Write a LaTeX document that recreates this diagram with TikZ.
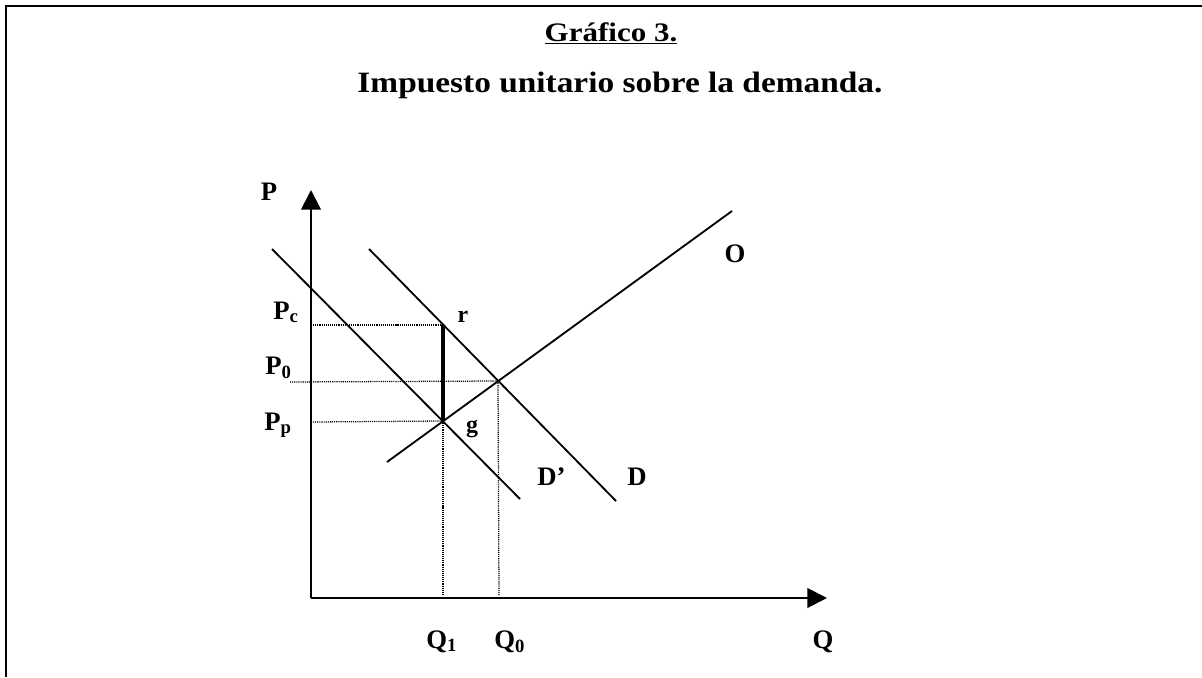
\documentclass[tikz,border=0pt]{standalone}
\usepackage{fontspec}
\usepackage{graphicx}
\setmainfont{Liberation Serif}
\usetikzlibrary{arrows.meta}

\tikzset{
  curve/.style={line width=1.3pt},
  axis/.style={line width=1.4pt,-{Triangle[width=14pt,length=14pt]}},
  guide/.style={line width=0.9pt,dash pattern=on 0.8pt off 0.7pt},
  lbl/.style={font=\bfseries\fontsize{17}{19}\selectfont},
  biglbl/.style={font=\bfseries\fontsize{19}{21}\selectfont},
}

\begin{document}
\begin{tikzpicture}[x=0.025cm,y=-0.025cm,inner sep=0pt]
\useasboundingbox (0,0) rectangle (1202,677);
\draw[line width=1.4pt] (6,677)--(6,6)--(1202,6);
% titles
\node[anchor=base,font=\bfseries\fontsize{19}{21}\selectfont] (tit) at (611,41) {\scalebox{1.16}[1]{\underline{Gráfico 3.}}};
\node[anchor=base,font=\bfseries\fontsize{21}{23}\selectfont] (sub) at (620,92) {\scalebox{1.13}[1]{Impuesto unitario sobre la demanda.}};
% points
\coordinate (o) at (311,598);
\coordinate (ptop) at (311,190);
\coordinate (qend) at (827,598);
\coordinate (d1a) at (272,249);
\coordinate (d1b) at (520,499);
\coordinate (d0a) at (369,249);
\coordinate (d0b) at (616,501);
\coordinate (sa) at (387,462);
\coordinate (sb) at (732,211);
\coordinate (r) at (443,325);
\coordinate (g) at (443,421);
\coordinate (e0) at (498,381);
\coordinate (pc) at (311,325);
\coordinate (p0) at (290,382);
\coordinate (pp) at (313,422);
\coordinate (q1) at (443,596);
\coordinate (q0) at (499,596);
% axes
\draw[axis] (o)--(ptop);
\draw[axis] (o)--(qend);
% guides
\draw[guide] (pc)--(r);
\draw[guide] (p0)--(e0);
\draw[guide] (pp)--(g);
\draw[guide] (g)--(q1);
\draw[guide] (e0)--(q0);
% curves
\draw[curve] (d1a)--(d1b);
\draw[curve] (d0a)--(d0b);
\draw[curve] (sa)--(sb);
\draw[line width=3.4pt] (r)--(g);
% labels
\node[biglbl,anchor=base] (lP) at (269,200) {P};
\node[biglbl,anchor=base west] (lPc) at (273,319) {P\textsubscript{c}};
\node[biglbl,anchor=base west] (lP0) at (265,374) {P\textsubscript{0}};
\node[biglbl,anchor=base west] (lPp) at (264,430) {P\textsubscript{p}};
\node[lbl,anchor=base] (lr) at (463,322) {r};
\node[lbl,anchor=base] (lg) at (472,432) {g};
\node[biglbl,anchor=base west] (lD1) at (537,485) {D’};
\node[biglbl,anchor=base west] (lD0) at (627,485) {D};
\node[biglbl,anchor=base] (lO) at (735,262) {O};
\node[biglbl,anchor=base west] (lQ1) at (426,648) {Q\textsubscript{1}};
\node[biglbl,anchor=base west] (lQ0) at (494,648) {Q\textsubscript{0}};
\node[biglbl,anchor=base] (lQ) at (823,648) {Q};
\end{tikzpicture}
\end{document}
